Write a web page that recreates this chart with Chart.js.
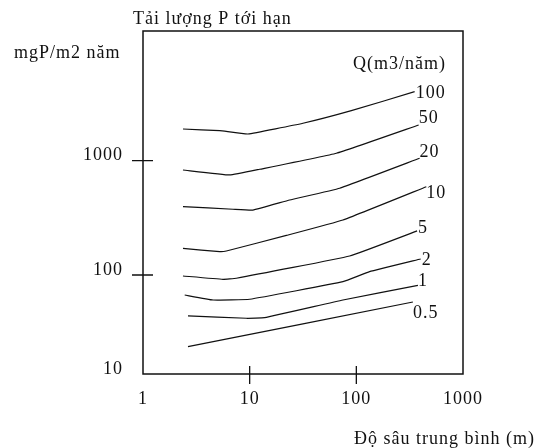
<!DOCTYPE html>
<html>
<head>
<meta charset="utf-8">
<script src="https://cdn.jsdelivr.net/npm/chart.js@4.4.1/dist/chart.umd.min.js"></script>
<style>
  html, body { margin: 0; padding: 0; background: #fff; }
  #wrap { width: 538px; height: 448px; }
</style>
</head>
<body>
<div id="wrap"><canvas id="chart" width="538" height="448"></canvas></div>
<script>
// Q (m3/nam) curves, depth (m) vs critical P load (mgP/m2 nam)
const flowLabels = ["100", "50", "20", "10", "5", "2", "1", "0.5"];

const q100Depth = [2.37, 5.24, 9.64, 31.6, 89.8, 352];
const q100Load  = [1893, 1830, 1713, 2125, 2738, 4016];
const q50Depth  = [2.37, 6.5, 12.4, 65, 384];
const q50Load   = [829, 750, 841, 1161, 2052];
const q20Depth  = [2.37, 6.98, 10.7, 23.7, 69.8, 392];
const q20Load   = [396, 376, 370, 453, 574, 1050];
const q10Depth  = [2.37, 5.24, 6.05, 22.1, 74.9, 453];
const q10Load   = [171, 160, 162, 222, 303, 592];
const q5Depth   = [2.37, 5.62, 7.5, 86.5, 371];
const q5Load    = [98, 91.7, 93.6, 146.6, 243];
const q2Depth   = [2.46, 4.53, 10, 74.9, 133, 401];
const q2Load    = [66.8, 60.4, 61.3, 87.4, 106.9, 138];
const q1Depth   = [2.64, 9.31, 13.8, 74.9, 378];
const q1Load    = [43.8, 41.8, 42.3, 60.4, 81];
const q05Depth  = [2.64, 339];
const q05Load   = [23.6, 58];

const xTickValues = [1, 10, 100, 1000];
const xTickLabels = ["1", "10", "100", "1000"];
const yTickValues = [10, 100, 1000];
const yTickLabels = ["10", "100", "1000"];

// the drawing puts its "10" label at the bottom corner, a bit above the true decade
const xMin = 1, xMax = 1000;
const yMin = 13.6, yMax = 13640;

const depths = [q100Depth, q50Depth, q20Depth, q10Depth, q5Depth, q2Depth, q1Depth, q05Depth];
const loads  = [q100Load, q50Load, q20Load, q10Load, q5Load, q2Load, q1Load, q05Load];

const FONT = "'Liberation Serif', 'Times New Roman', serif";
const INK = "#111";

// where each Q label sits relative to the end of its curve
const labelNudge = [[1, 1.5], [0, -7], [0, -6.5], [0, 7], [1, -3], [1, 1], [0, -4.5], [0, 11]];

const datasets = flowLabels.map((q, i) => ({
  label: q,
  data: depths[i].map((d, j) => ({ x: d, y: loads[i][j] })),
  borderColor: INK,
  borderWidth: 1.2,
  pointRadius: 0,
  tension: 0.1,
  fill: false,
}));

const decorPlugin = {
  id: "decor",
  beforeDraw(chart) {
    chart.ctx.letterSpacing = "1px";
  },
  afterDraw(chart) {
    const ctx = chart.ctx;
    const area = chart.chartArea;
    const xs = chart.scales.x;
    const ys = chart.scales.y;
    ctx.save();
    ctx.strokeStyle = INK;
    ctx.lineWidth = 1.5;
    ctx.strokeRect(area.left, area.top, area.right - area.left, area.bottom - area.top);

    // tick marks crossing the axes
    ctx.lineWidth = 1.3;
    ctx.beginPath();
    [10, 100].forEach(v => {
      const px = xs.getPixelForValue(v);
      ctx.moveTo(px, area.bottom - 8);
      ctx.lineTo(px, area.bottom + 10);
    });
    [100, 1000].forEach(v => {
      const py = ys.getPixelForValue(v);
      ctx.moveTo(area.left - 11, py);
      ctx.lineTo(area.left + 10, py);
    });
    ctx.stroke();

    ctx.fillStyle = INK;
    ctx.font = "18px " + FONT;
    ctx.textAlign = "left";
    ctx.textBaseline = "alphabetic";
    ctx.fillText("Tải lượng P tới hạn", 133, 24);
    ctx.fillText("mgP/m2 năm", 14, 58);
    ctx.fillText("Q(m3/năm)", 353, 68.5);
    ctx.textAlign = "right";
    ctx.fillText("Độ sâu trung bình (m)", 535, 444);

    ctx.textAlign = "left";
    ctx.textBaseline = "middle";
    chart.data.datasets.forEach((ds, i) => {
      const last = ds.data[ds.data.length - 1];
      const px = xs.getPixelForValue(last.x) + labelNudge[i][0];
      const py = ys.getPixelForValue(last.y) + labelNudge[i][1];
      ctx.fillText(ds.label, px, py);
    });
    ctx.restore();
  }
};

new Chart(document.getElementById("chart"), {
  type: "line",
  data: { datasets: datasets },
  options: {
    responsive: false,
    animation: false,
    devicePixelRatio: 1,
    layout: { padding: { top: 31, right: 75, left: 0, bottom: 0 } },
    plugins: {
      legend: { display: false },
      tooltip: { enabled: false },
    },
    scales: {
      x: {
        type: "logarithmic",
        min: xMin,
        max: xMax,
        bounds: "data",
        grid: { display: false },
        border: { display: false },
        afterBuildTicks: (scale) => { scale.ticks = xTickValues.map(v => ({ value: v })); },
        afterFit: (scale) => { scale.height = 74; },
        ticks: {
          color: INK,
          font: { family: FONT, size: 18 },
          padding: 6,
          maxRotation: 0,
          autoSkip: false,
          callback: (value, index) => xTickLabels[index],
        },
      },
      y: {
        type: "logarithmic",
        min: yMin,
        max: yMax,
        bounds: "data",
        grid: { display: false },
        border: { display: false },
        afterBuildTicks: (scale) => {
          scale.ticks = yTickValues.map(v => ({ value: Math.max(v, scale.min) }));
        },
        afterFit: (scale) => { scale.width = 143; },
        ticks: {
          color: INK,
          font: { family: FONT, size: 18 },
          padding: 12,
          labelOffset: -5,
          autoSkip: false,
          callback: (value, index) => yTickLabels[index],
        },
      },
    },
  },
  plugins: [decorPlugin],
});
</script>
</body>
</html>
